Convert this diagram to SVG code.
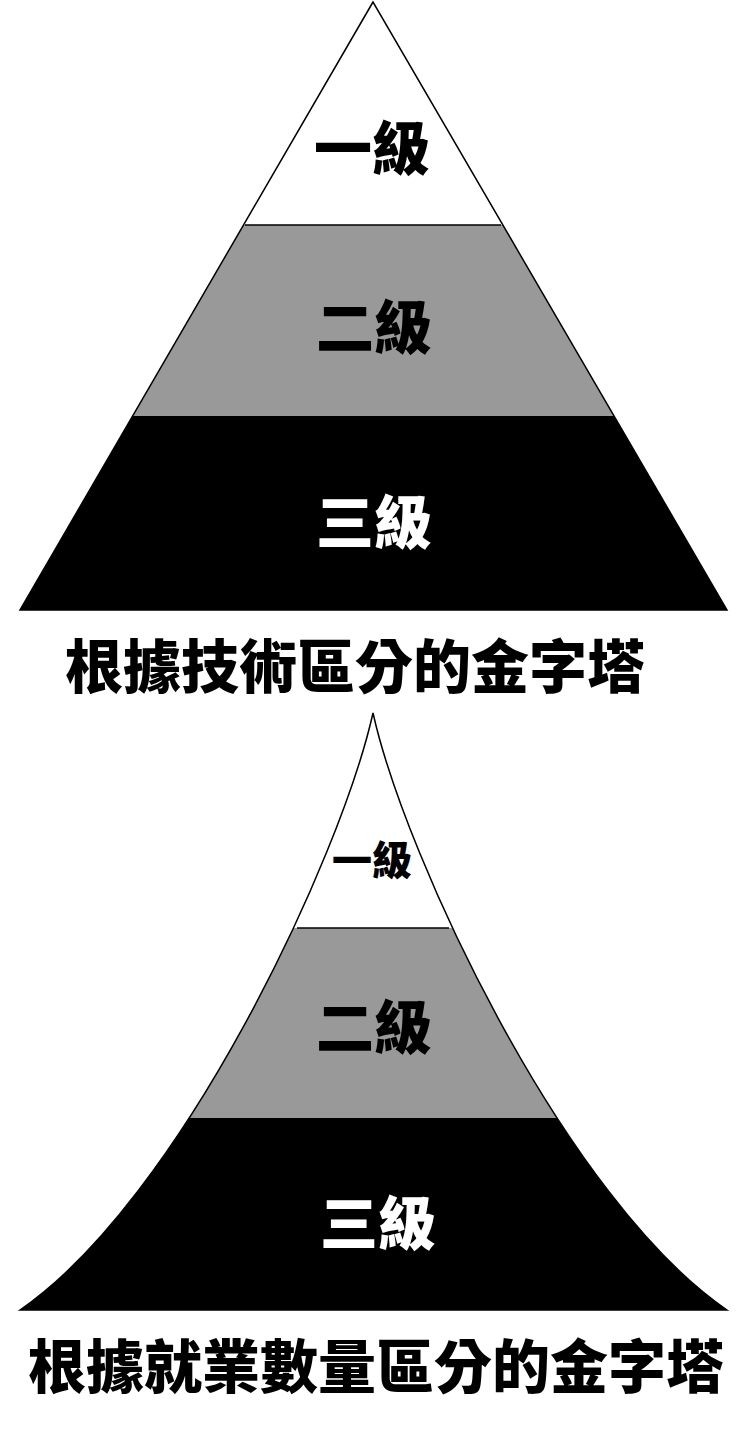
<svg xmlns="http://www.w3.org/2000/svg" width="740" height="1451" viewBox="0 0 740 1451">
<style>
text{font-family:"Noto Sans CJK TC","Noto Sans CJK SC",sans-serif;font-weight:900;text-anchor:middle}
.w{fill:#fff}.g{fill:#999}.b{fill:#000}
.lb{font-size:58px}
.t{font-size:58px;fill:#000}
</style>
<defs>
<clipPath id="c1"><path d="M373,2 L20,610 L727,610 Z"/></clipPath>
<clipPath id="c2"><path d="M373,713 C340,860 180,1200 20,1310 L727,1310 C566,1200 406,860 373,713 Z"/></clipPath>
</defs>
<rect width="740" height="1451" fill="#fff"/>
<g id="pyramid1">
<g clip-path="url(#c1)">
<rect x="0" y="0" width="740" height="225" class="w"/>
<rect x="0" y="225" width="740" height="191" class="g"/>
<rect x="0" y="416" width="740" height="200" class="b"/>
</g>
<path d="M373,2 L20,610 L727,610 Z" fill="none" stroke="#000" stroke-width="1.5"/>
<line x1="245" y1="225" x2="501" y2="225" stroke="#000" stroke-width="1.5"/>
<text class="lb" x="372" y="170" fill="#000">一級</text>
<text class="lb" x="374" y="349" fill="#000">二級</text>
<text class="lb" x="374" y="544" fill="#fff">三級</text>
</g>
<g id="title1"><text class="t" x="355" y="688">根據技術區分的金字塔</text></g>
<g id="pyramid2">
<g clip-path="url(#c2)">
<rect x="0" y="700" width="740" height="228" class="w"/>
<rect x="0" y="928" width="740" height="190" class="g"/>
<rect x="0" y="1118" width="740" height="200" class="b"/>
</g>
<path d="M373,713 C340,860 180,1200 20,1310 L727,1310 C566,1200 406,860 373,713 Z" fill="none" stroke="#000" stroke-width="1.5"/>
<line x1="297" y1="928" x2="449" y2="928" stroke="#000" stroke-width="1.5"/>
<text x="372" y="875" font-size="40" fill="#000">一級</text>
<text class="lb" x="374" y="1049" fill="#000">二級</text>
<text class="lb" x="378" y="1245" fill="#fff">三級</text>
</g>
<g id="title2"><text class="t" x="376" y="1388">根據就業數量區分的金字塔</text></g>
<g id="connectors"/>
</svg>
